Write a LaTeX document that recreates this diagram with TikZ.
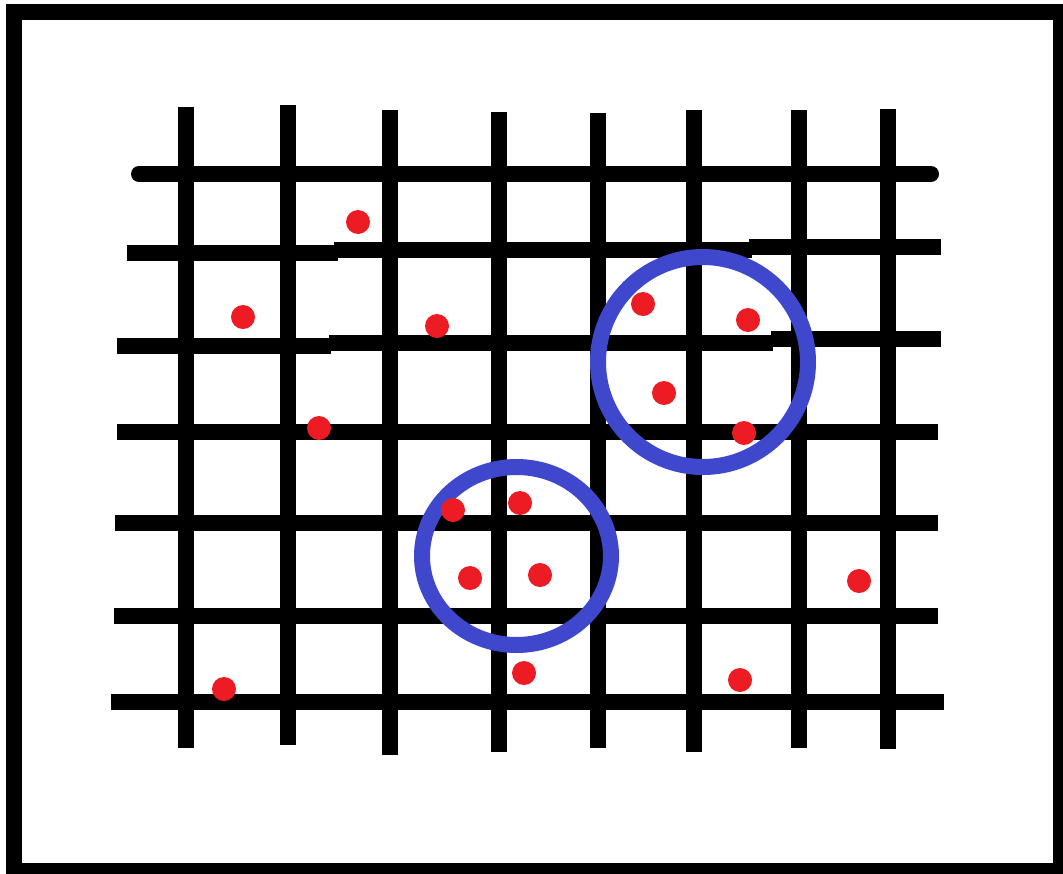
\documentclass[tikz,border=0pt]{standalone}
\definecolor{paintred}{HTML}{ED1C24}
\definecolor{paintblue}{HTML}{3F48CC}
\tikzset{
  gridline/.style={line width=16pt, black},
  ring/.style={line width=16pt, paintblue},
  spot/.style={fill=paintred, draw=none},
  frame/.style={line width=16pt, black}
}
\begin{document}
\begin{tikzpicture}[x=1pt,y=-1pt]
\useasboundingbox (0,0) rectangle (1063,873);
\fill[white] (0,0) rectangle (1063,873);
\draw[frame] (14,12) rectangle (1061,871);
% vertical lines
\draw[gridline] (186,107) -- (186,748);
\draw[gridline] (288,105) -- (288,745);
\draw[gridline] (390,110) -- (390,755);
\draw[gridline] (499,112) -- (499,752);
\draw[gridline] (598,113) -- (598,748);
\draw[gridline] (694,110) -- (694,752);
\draw[gridline] (799,110) -- (799,748);
\draw[gridline] (888,109) -- (888,749);
% horizontal lines
\draw[gridline, line cap=round] (139,174) -- (931,174);
\draw[gridline] (127,253) -- (338,253);
\draw[gridline] (334,250) -- (752,250);
\draw[gridline] (749,247) -- (941,247);
\draw[gridline] (117,346) -- (331,346);
\draw[gridline] (329,343) -- (773,343);
\draw[gridline] (771,339) -- (941,339);
\draw[gridline] (117,432) -- (938,432);
\draw[gridline] (115,523) -- (938,523);
\draw[gridline] (114,616) -- (938,616);
\draw[gridline] (111,702) -- (944,702);
% circles
\draw[ring] (703,362) circle (105);
\draw[ring] (516.5,556) ellipse [x radius=94.5, y radius=89];
% red spots
\foreach \p in {(358,222),(243,317),(437,326),(319,428),(643,304),(748,320),
  (664,393),(744,433),(453,510),(520,503),(470,578),(540,575),(859,581),
  (524,673),(224,689),(740,680)}
  \fill[spot] \p circle (12);
\end{tikzpicture}
\end{document}
